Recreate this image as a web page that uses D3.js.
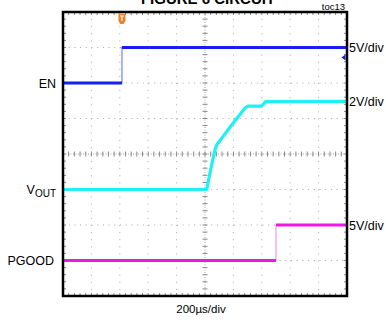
<!DOCTYPE html>
<html>
<head>
<meta charset="utf-8">
<script src="https://cdn.jsdelivr.net/npm/d3@7"></script>
<style>
  body { margin: 0; background: #fff; }
  svg { display: block; font-family: "Liberation Sans", Arial, sans-serif; }
</style>
</head>
<body>
<div id="chart"></div>
<script>
// time axis, in microseconds (10 divisions of 200us)
const timeTicks = d3.range(0, 2001, 200);

// EN trace
const enTime = [0, 415, 415, 2000];
const enVolts = [0, 0, 5, 5];

// VOUT trace
const voutTime = [0, 1012, 1035, 1070, 1082, 1188, 1282, 1303, 1399, 1427, 2000];
const voutVolts = [0, 0, 0.93, 2.23, 2.51, 3.63, 4.59, 4.70, 4.70, 4.95, 4.96];

// PGOOD trace
const pgTime = [0, 1500, 1500, 2000];
const pgVolts = [0, 0, 5, 5];

const channelNames = ["EN", "VOUT", "PGOOD"];
const channelScales = ["5V/div", "2V/div", "5V/div"];
const channelVPerDiv = [5, 2, 5];
const channelGroundDiv = [6, 3, 1];
const triggerTime = 415;

const W = 386, H = 322;
const margin = { top: 12, right: 39, bottom: 26, left: 63 };
const width = W - margin.left - margin.right;
const height = H - margin.top - margin.bottom;

const svg = d3.select("#chart").append("svg")
    .attr("width", W)
    .attr("height", H);

// title, cut off by the top edge as in the source
svg.append("text")
    .attr("x", 208).attr("y", 4)
    .attr("text-anchor", "middle")
    .attr("font-size", 15).attr("font-weight", "bold")
    .text("FIGURE 6 CIRCUIT");

svg.append("text")
    .attr("x", 345).attr("y", 9.5)
    .attr("text-anchor", "end")
    .attr("font-size", 9.5)
    .text("toc13");

const g = svg.append("g")
    .attr("transform", "translate(" + margin.left + "," + margin.top + ")");

// Scales
const x = d3.scaleLinear().domain([0, 2000]).range([0, width]);
const y = d3.scaleLinear().domain([0, 8]).range([height, 0]);

// grid
const gridColor = "#a8a8a8";
g.selectAll(".vgrid")
    .data(timeTicks.slice(1, -1))
    .enter().append("line")
    .attr("x1", d => x(d)).attr("x2", d => x(d))
    .attr("y1", 0).attr("y2", height)
    .attr("stroke", gridColor)
    .attr("stroke-width", 1)
    .attr("stroke-dasharray", d => d === 1000 ? "1,1.5" : "1,6.1");

g.selectAll(".hgrid")
    .data(d3.range(1, 8))
    .enter().append("line")
    .attr("x1", 0).attr("x2", width)
    .attr("y1", d => y(d)).attr("y2", d => y(d))
    .attr("stroke", gridColor)
    .attr("stroke-width", 1)
    .attr("stroke-dasharray", d => d === 4 ? "1,1.5" : "1,4.7");

// minor ticks on the centre lines and frame
const minorX = d3.range(0, 2001, 40);
const minorY = d3.range(0, 8.01, 0.2);
const tickColor = "#888";

g.selectAll(".mx")
    .data(minorX)
    .enter().append("line")
    .attr("x1", d => x(d)).attr("x2", d => x(d))
    .attr("y1", y(4) - 2.5).attr("y2", y(4) + 2.5)
    .attr("stroke", tickColor);

g.selectAll(".my")
    .data(minorY)
    .enter().append("line")
    .attr("x1", x(1000) - 2.5).attr("x2", x(1000) + 2.5)
    .attr("y1", d => y(d)).attr("y2", d => y(d))
    .attr("stroke", tickColor);

g.selectAll(".mxb")
    .data(minorX)
    .enter().append("line")
    .attr("x1", d => x(d)).attr("x2", d => x(d))
    .attr("y1", height - 3).attr("y2", height)
    .attr("stroke", tickColor);

g.selectAll(".mxt")
    .data(minorX)
    .enter().append("line")
    .attr("x1", d => x(d)).attr("x2", d => x(d))
    .attr("y1", 0).attr("y2", 3)
    .attr("stroke", tickColor);

g.selectAll(".myl")
    .data(minorY)
    .enter().append("line")
    .attr("x1", 0).attr("x2", 3)
    .attr("y1", d => y(d)).attr("y2", d => y(d))
    .attr("stroke", tickColor);

g.selectAll(".myr")
    .data(minorY)
    .enter().append("line")
    .attr("x1", width - 3).attr("x2", width)
    .attr("y1", d => y(d)).attr("y2", d => y(d))
    .attr("stroke", tickColor);

// traces
const traces = [
    { t: enTime, v: enVolts, color: "#1420f0", edge: "#7f8cff" },
    { t: voutTime, v: voutVolts, color: "#1ef0f4", edge: "#8ff8fa" },
    { t: pgTime, v: pgVolts, color: "#f016e6", edge: "#f8a0f4" }
];

const line = d3.line()
    .x(d => x(d[0]))
    .y(d => y(d[1]));

traces.forEach((tr, i) => {
    let pts = tr.t.map((t, k) => [t, channelGroundDiv[i] + tr.v[k] / channelVPerDiv[i]]);
    tr.endDiv = pts[pts.length - 1][1];

    // thin line for the whole trace (shows the fast edges)
    g.append("path")
        .datum(pts)
        .attr("d", line)
        .attr("fill", "none")
        .attr("stroke", tr.edge)
        .attr("stroke-width", 1.3);

    // thick noisy band for the rest, split where the edge is vertical
    let runs = [[pts[0]]];
    for (let k = 1; k < pts.length; k++) {
        if (pts[k][0] === pts[k - 1][0]) runs.push([pts[k]]);
        else runs[runs.length - 1].push(pts[k]);
    }
    runs.filter(r => r.length > 1).forEach(r => {
        g.append("path")
            .datum(r)
            .attr("d", line)
            .attr("fill", "none")
            .attr("stroke", tr.color)
            .attr("stroke-width", 3.2)
            .attr("stroke-linejoin", "round");
    });
});

// frame
g.append("rect")
    .attr("x", 0).attr("y", 0)
    .attr("width", width).attr("height", height)
    .attr("fill", "none")
    .attr("stroke", "#000")
    .attr("stroke-width", 2.5);

// trigger marker
const tx = x(triggerTime);
g.append("path")
    .attr("d", "M" + (tx - 3.5) + ",2 h7 v7 l-2,3 h-3 l-2,-3 z")
    .attr("fill", "#f07d28");
g.append("path")
    .attr("d", "M" + (tx - 2) + ",4 h4 M" + tx + ",4 v5")
    .attr("stroke", "#fff")
    .attr("stroke-width", 1.2);

// ground marker for EN at the right edge
g.append("path")
    .attr("d", "M" + (width - 1.5) + "," + (y(7) + 7) + " l-4,3 l4,3 z")
    .attr("fill", "#1420c0");

// channel labels
const labelY = channelGroundDiv.map(d => y(d) + margin.top);
svg.append("text")
    .attr("x", 56).attr("y", labelY[0] + 4.5)
    .attr("text-anchor", "end").attr("font-size", 12.5)
    .text(channelNames[0]);

const vout = svg.append("text")
    .attr("x", 56).attr("y", labelY[1] + 4)
    .attr("text-anchor", "end").attr("font-size", 12.5);
vout.append("tspan").text("V");
vout.append("tspan").attr("dy", 3).attr("font-size", 10).text("OUT");

svg.append("text")
    .attr("x", 54).attr("y", labelY[2] + 4.5)
    .attr("text-anchor", "end").attr("font-size", 12.5)
    .text(channelNames[2]);

// scale labels at right, level with each trace's final value
channelScales.forEach((s, i) => {
    svg.append("text")
        .attr("x", 349)
        .attr("y", y(traces[i].endDiv) + margin.top + 4.5)
        .attr("font-size", 12.5)
        .text(s);
});

// time/div
svg.append("text")
    .attr("x", 201).attr("y", 313)
    .attr("text-anchor", "middle")
    .attr("font-size", 11.5)
    .text("200µs/div");
</script>
</body>
</html>
